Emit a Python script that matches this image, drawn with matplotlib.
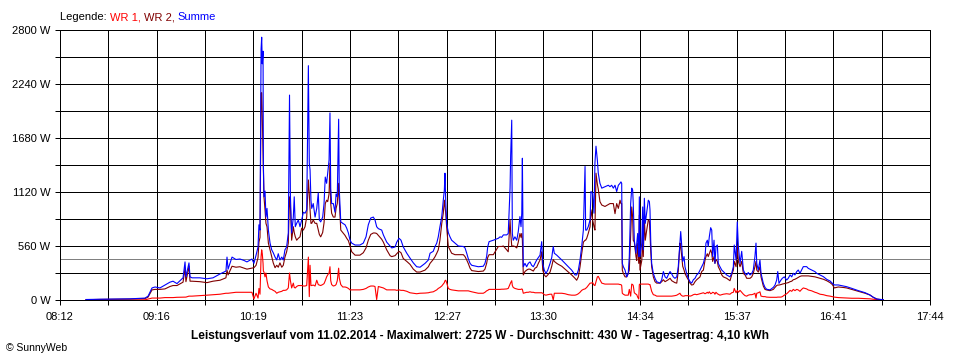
import matplotlib
matplotlib.use("Agg")
import matplotlib.pyplot as plt
import numpy as np

plt.rcParams["font.family"] = ["Liberation Sans", "DejaVu Sans"]

# time of day in minutes after midnight, power in W
times = [
    509.1, 518.3, 538.0, 547.9, 549.9, 552.5, 554.5, 557.7, 561.0, 564.3,
    566.3, 568.9, 572.9, 574.2, 574.8, 576.8, 577.5, 578.8, 584.0, 588.6,
    592.6, 597.2, 601.1, 601.8, 602.5, 605.1, 607.7, 610.3, 613.0, 614.9,
    618.2, 619.5, 620.9, 622.2, 622.8, 623.5, 624.2, 624.6, 625.0, 625.5,
    625.7, 626.1, 626.8, 627.4, 628.1, 629.0, 630.1, 631.2, 632.2, 633.4,
    634.5, 635.5, 636.6, 637.8, 638.8, 639.9, 641.0, 642.1, 642.9, 643.5,
    644.3, 645.4, 646.0, 646.7, 647.6, 648.7, 649.8, 650.9, 652.0, 653.1,
    654.2, 655.3, 655.9, 656.4, 657.0, 657.5, 658.5, 659.7, 660.8, 661.8,
    662.5, 663.4, 664.7, 665.6, 666.4, 667.3, 668.0, 668.9, 669.5, 670.0,
    670.6, 671.7, 672.8, 673.5, 674.3, 675.2, 675.6, 676.6, 677.9, 679.4,
    680.5, 681.6, 682.7, 683.8, 686.0, 689.2, 691.4, 693.2, 694.7, 696.3,
    698.0, 699.1, 700.2, 701.3, 703.5, 704.6, 706.8, 709.0, 710.1, 712.3,
    713.4, 714.9, 716.2, 717.7, 720.0, 722.1, 724.3, 726.5, 728.7, 732.0,
    734.2, 735.3, 737.4, 738.6, 739.7, 740.7, 741.8, 743.0, 744.0, 744.7,
    745.1, 745.6, 746.2, 747.3, 748.4, 749.5, 751.7, 753.9, 757.2, 758.3,
    759.4, 760.4, 761.6, 762.7, 767.0, 770.3, 771.4, 772.5, 773.2, 774.1,
    776.9, 780.2, 781.3, 782.4, 783.5, 785.7, 786.7, 787.9, 788.3, 789.0,
    789.4, 790.0, 791.1, 792.3, 793.3, 794.4, 795.1, 795.6, 796.0, 796.6,
    797.7, 798.8, 799.9, 801.0, 802.1, 803.2, 804.3, 805.4, 806.5, 807.6,
    808.7, 809.4, 810.4, 811.5, 812.7, 814.2, 815.3, 816.3, 817.0, 818.6,
    819.6, 821.9, 824.0, 826.2, 828.4, 830.6, 831.7, 832.8, 833.9, 835.0,
    836.1, 837.2, 837.6, 838.3, 839.3, 840.5, 841.1, 842.2, 843.1, 843.7,
    844.4, 845.3, 845.9, 847.0, 848.2, 850.3, 852.5, 853.6, 854.7, 855.8,
    856.9, 858.0, 859.1, 860.2, 860.8, 861.3, 861.7, 862.4, 863.5, 864.6,
    865.6, 866.3, 867.2, 867.9, 868.5, 868.9, 869.6, 870.7, 871.2, 871.8,
    872.5, 872.9, 873.3, 874.5, 875.1, 875.5, 876.2, 876.8, 877.7, 878.8,
    879.5, 879.9, 880.4, 881.0, 882.1, 883.2, 884.3, 886.5, 887.6, 888.7,
    889.8, 890.9, 891.9, 893.1, 894.2, 895.2, 896.3, 897.5, 898.5, 899.6,
    900.1, 900.8, 901.4, 902.3, 902.9, 904.0, 905.1, 906.2, 907.3, 908.4,
    909.5, 910.6, 911.7, 912.8, 913.9, 915.0, 916.1, 916.7, 917.6, 918.2,
    918.9, 919.8, 920.5, 921.1, 922.0, 922.6, 923.3, 924.2, 924.8, 925.9,
    927.1, 928.1, 930.3, 932.5, 933.6, 934.7, 935.3, 936.5, 937.3, 938.0,
    939.1, 940.2, 941.3, 942.4, 943.5, 944.5, 945.7, 946.8, 947.8, 948.9,
    949.6, 950.1, 951.1, 952.2, 952.9, 954.4, 955.5, 956.6, 958.8, 961.0,
    962.1, 963.2, 963.9, 964.7, 966.0, 966.9, 968.2, 969.8, 970.8, 972.0,
    973.1, 974.1, 975.2, 976.4, 977.4, 978.5, 979.6, 980.7, 982.9, 984.0,
    986.2, 988.4, 989.5, 991.7, 993.9, 996.1, 998.3, 999.8, 1001.1, 1003.7,
    1007.0, 1009.2, 1012.5, 1016.9, 1021.3, 1024.5, 1026.7, 1029.0, 1031.1, 1033.3,
]

summe = [
    5, 8, 12, 20, 40, 125, 135, 125, 155, 185,
    195, 170, 230, 395, 240, 385, 240, 230, 230, 220,
    230, 270, 300, 445, 320, 445, 420, 425, 410, 395,
    425, 380, 465, 550, 780, 725, 2600, 2725, 2450, 2580,
    1420, 1070, 1130, 860, 950, 725, 590, 520, 490, 445,
    415, 480, 415, 445, 415, 520, 550, 695, 2125, 1070,
    695, 860, 1070, 760, 795, 830, 760, 830, 910, 900,
    935, 2430, 1420, 1350, 1035, 950, 1000, 860, 950, 1110,
    830, 810, 860, 1000, 1275, 1210, 1315, 1450, 1940, 1150,
    1000, 1000, 910, 1100, 1070, 1875, 1150, 810, 795, 780,
    745, 695, 620, 590, 570, 570, 590, 655, 780, 850,
    860, 830, 760, 740, 725, 675, 600, 560, 540, 550,
    600, 640, 620, 550, 485, 435, 385, 345, 340, 380,
    415, 485, 505, 555, 590, 655, 760, 865, 1035, 1140,
    1315, 1035, 795, 700, 655, 620, 590, 560, 555, 540,
    485, 430, 380, 360, 345, 350, 380, 450, 550, 605,
    620, 640, 655, 650, 675, 675, 690, 1160, 1500, 1865,
    690, 620, 655, 620, 710, 865, 760, 900, 1470, 345,
    380, 345, 380, 395, 360, 345, 380, 415, 440, 465,
    605, 380, 310, 275, 310, 380, 440, 555, 485, 465,
    450, 415, 380, 345, 310, 260, 260, 310, 415, 555,
    725, 1385, 725, 725, 760, 830, 1125, 1105, 900, 1420,
    1595, 1450, 1315, 1210, 1160, 1175, 1190, 1175, 1190, 1160,
    1190, 1125, 1190, 1210, 1225, 1210, 380, 345, 310, 240,
    275, 450, 1000, 1160, 1140, 1000, 620, 485, 590, 690,
    450, 1070, 450, 590, 965, 520, 1055, 795, 900, 1035,
    1020, 935, 605, 380, 275, 225, 190, 175, 210, 295,
    240, 225, 260, 295, 270, 240, 225, 240, 345, 590,
    710, 555, 400, 450, 345, 275, 225, 190, 175, 210,
    225, 260, 275, 310, 345, 380, 450, 590, 620, 555,
    655, 750, 725, 450, 620, 380, 555, 570, 380, 345,
    310, 295, 260, 240, 275, 345, 570, 415, 810, 555,
    380, 505, 310, 275, 260, 285, 260, 275, 310, 450,
    590, 380, 310, 415, 277, 173, 131, 111, 105, 131,
    155, 207, 295, 173, 207, 225, 240, 207, 225, 260,
    240, 277, 260, 295, 311, 277, 311, 346, 346, 328,
    311, 294, 277, 260, 242, 214, 197, 173, 156, 156,
    145, 138, 121, 97, 76, 52, 28, 10, 7, 3,
]

wr2 = [
    3, 6, 10, 15, 30, 105, 110, 110, 115, 140,
    150, 150, 185, 330, 190, 350, 195, 195, 190, 180,
    195, 205, 230, 310, 260, 350, 340, 345, 330, 320,
    330, 335, 360, 440, 600, 650, 2145, 2150, 1900, 1500,
    1315, 1070, 935, 795, 760, 590, 520, 450, 385, 335,
    360, 340, 385, 340, 360, 445, 500, 590, 1070, 965,
    620, 760, 700, 655, 620, 640, 655, 745, 725, 760,
    860, 1245, 1100, 935, 795, 795, 830, 795, 795, 725,
    680, 655, 700, 800, 1000, 1035, 1020, 1100, 1420, 1000,
    900, 860, 860, 950, 1000, 1210, 1035, 725, 700, 670,
    640, 615, 560, 500, 465, 465, 490, 540, 620, 680,
    695, 695, 690, 670, 630, 600, 520, 460, 450, 460,
    480, 505, 490, 430, 400, 370, 320, 290, 290, 310,
    345, 380, 420, 450, 485, 520, 620, 795, 900, 1035,
    970, 900, 760, 555, 520, 485, 470, 470, 470, 450,
    415, 380, 330, 305, 295, 300, 320, 380, 440, 470,
    470, 555, 555, 555, 560, 520, 500, 830, 700, 560,
    560, 560, 555, 540, 600, 690, 650, 690, 620, 260,
    295, 310, 320, 320, 310, 300, 330, 340, 380, 415,
    500, 310, 260, 240, 260, 290, 350, 420, 400, 380,
    370, 350, 320, 290, 260, 225, 205, 240, 345, 480,
    600, 620, 620, 640, 690, 760, 935, 830, 760, 725,
    1315, 1200, 1150, 1020, 985, 970, 990, 1000, 1000, 1000,
    895, 1000, 950, 1035, 1000, 1000, 310, 275, 240, 240,
    275, 310, 690, 965, 860, 620, 600, 450, 410, 590,
    380, 880, 310, 410, 700, 450, 860, 620, 720, 830,
    820, 690, 500, 345, 240, 190, 175, 175, 190, 210,
    190, 200, 210, 225, 200, 190, 180, 175, 300, 590,
    550, 450, 350, 310, 275, 240, 210, 175, 155, 160,
    190, 210, 225, 240, 295, 310, 415, 450, 480, 450,
    480, 520, 485, 400, 450, 380, 420, 400, 345, 310,
    260, 240, 225, 200, 260, 310, 400, 345, 570, 400,
    345, 400, 275, 260, 225, 225, 225, 240, 275, 345,
    400, 310, 290, 345, 240, 145, 110, 104, 97, 110,
    131, 150, 155, 155, 160, 165, 170, 175, 180, 190,
    195, 210, 215, 225, 235, 245, 250, 250, 250, 250,
    245, 240, 235, 225, 215, 200, 180, 160, 125, 135,
    130, 125, 110, 90, 70, 52, 28, 10, 5, 2,
]

wr1 = [
    0, 0, 0, 2, 10, 20, 20, 20, 25, 25,
    25, 28, 30, 30, 30, 40, 40, 40, 45, 50,
    55, 60, 70, 70, 70, 75, 80, 80, 80, 80,
    80, 10, 70, 20, 120, 60, 450, 520, 480, 380,
    300, 290, 240, 280, 200, 135, 115, 110, 100, 90,
    70, 80, 85, 90, 100, 100, 105, 125, 280, 200,
    125, 175, 130, 125, 140, 150, 150, 150, 145, 145,
    150, 445, 35, 360, 150, 150, 155, 145, 205, 160,
    155, 150, 160, 170, 200, 240, 260, 280, 345, 200,
    160, 145, 150, 160, 200, 330, 230, 160, 135, 135,
    130, 120, 105, 105, 105, 105, 110, 120, 135, 145,
    145, 140, 5, 140, 130, 125, 105, 105, 105, 105,
    100, 105, 100, 100, 90, 75, 70, 65, 70, 72,
    75, 80, 85, 95, 105, 120, 130, 145, 165, 180,
    200, 205, 180, 120, 110, 105, 100, 95, 95, 95,
    95, 95, 90, 85, 70, 70, 80, 95, 100, 110,
    110, 110, 110, 112, 112, 115, 120, 165, 180, 200,
    150, 130, 120, 115, 110, 110, 110, 115, 110, 70,
    75, 80, 80, 85, 80, 80, 75, 75, 75, 75,
    75, 70, 55, 50, 55, 60, 60, 0, 70, 70,
    70, 70, 65, 55, 50, 50, 55, 65, 80, 100,
    110, 115, 120, 130, 150, 175, 175, 180, 155, 150,
    190, 240, 245, 210, 175, 165, 165, 165, 165, 165,
    165, 165, 165, 160, 160, 150, 70, 60, 50, 50,
    50, 110, 40, 165, 160, 150, 75, 60, 55, 30,
    10, 160, 165, 165, 165, 165, 165, 165, 165, 165,
    160, 160, 130, 90, 55, 50, 40, 40, 40, 40,
    40, 40, 40, 40, 40, 42, 45, 50, 60, 70,
    55, 45, 40, 40, 45, 45, 45, 40, 45, 55,
    60, 55, 60, 65, 70, 75, 65, 70, 80, 70,
    85, 65, 70, 80, 75, 60, 80, 65, 60, 50,
    55, 60, 65, 60, 75, 80, 120, 75, 100, 80,
    100, 80, 60, 45, 40, 50, 55, 55, 60, 70,
    20, 70, 75, 85, 40, 35, 35, 30, 28, 28,
    28, 28, 30, 30, 30, 35, 50, 65, 80, 100,
    90, 110, 97, 110, 104, 90, 110, 125, 115, 104,
    95, 80, 75, 60, 55, 45, 40, 35, 30, 25,
    22, 20, 18, 18, 15, 12, 8, 5, 2, 0,
]

x_labels = ["08:12", "09:16", "10:19", "11:23", "12:27",
            "13:30", "14:34", "15:37", "16:41", "17:44"]
y_labels = ["0 W", "560 W", "1120 W", "1680 W", "2240 W", "2800 W"]
t_start, t_end = 492, 1064
y_max = 2800
average = 430

LW = 0.72  # one pixel at 100 dpi

fig = plt.figure(figsize=(9.6, 3.6), dpi=100)
ax = fig.add_axes([60 / 960, 60 / 360, 870 / 960, 270 / 360])

# grid: one line per 280 W, 18 equal time steps
x_grid = np.linspace(t_start, t_end, 19)
y_grid = np.linspace(0, y_max, 11)
for xv in x_grid:
    ax.axvline(xv, color="black", lw=LW, zorder=1, antialiased=False)
for yv in y_grid:
    ax.axhline(yv, color="black", lw=LW, zorder=1, antialiased=False)
ax.axhline(average, color="#808080", lw=LW, zorder=2, antialiased=False)

ax.plot(times, wr1, color="#ff0000", lw=0.8, zorder=3)
ax.plot(times, wr2, color="#800000", lw=0.8, zorder=4)
ax.plot(times, summe, color="#0000ff", lw=0.8, zorder=5)

ax.set_xlim(t_start, t_end)
ax.set_ylim(0, y_max)
ax.set_xticks(x_grid)
ax.set_xticklabels([x_labels[i // 2] if i % 2 == 0 else "" for i in range(19)])
ax.set_yticks(y_grid)
ax.set_yticklabels([y_labels[i // 2] if i % 2 == 0 else "" for i in range(11)])
ax.tick_params(direction="out", length=3.8, width=LW, color="black",
               labelsize=8, pad=3)
ax.tick_params(axis="x", pad=5)
for sp in ax.spines.values():
    sp.set_color("black")
    sp.set_linewidth(LW)
    sp.set_antialiased(False)

# legend line with coloured parts
renderer = fig.canvas.get_renderer()
x0, y0 = 60 / 960, 1 - 17 / 360
for part, col in [("Legende: ", "black"), ("WR 1, ", "#ff0000"),
                  ("WR 2, ", "#800000"), ("Summe", "#0000ff")]:
    t = fig.text(x0, y0, part, color=col, fontsize=8, va="center")
    x0 += t.get_window_extent(renderer).width / fig.bbox.width

fig.text(0.5, 1 - 336 / 360,
         "Leistungsverlauf vom 11.02.2014 - Maximalwert: 2725 W - "
         "Durchschnitt: 430 W - Tagesertrag: 4,10 kWh",
         ha="center", va="center", fontsize=8.6, fontweight="bold")
fig.text(6 / 960, 1 - 348 / 360, "\u00a9 SunnyWeb", fontsize=7.5, va="center")

fig.savefig("out.png", dpi=100, facecolor="white")
